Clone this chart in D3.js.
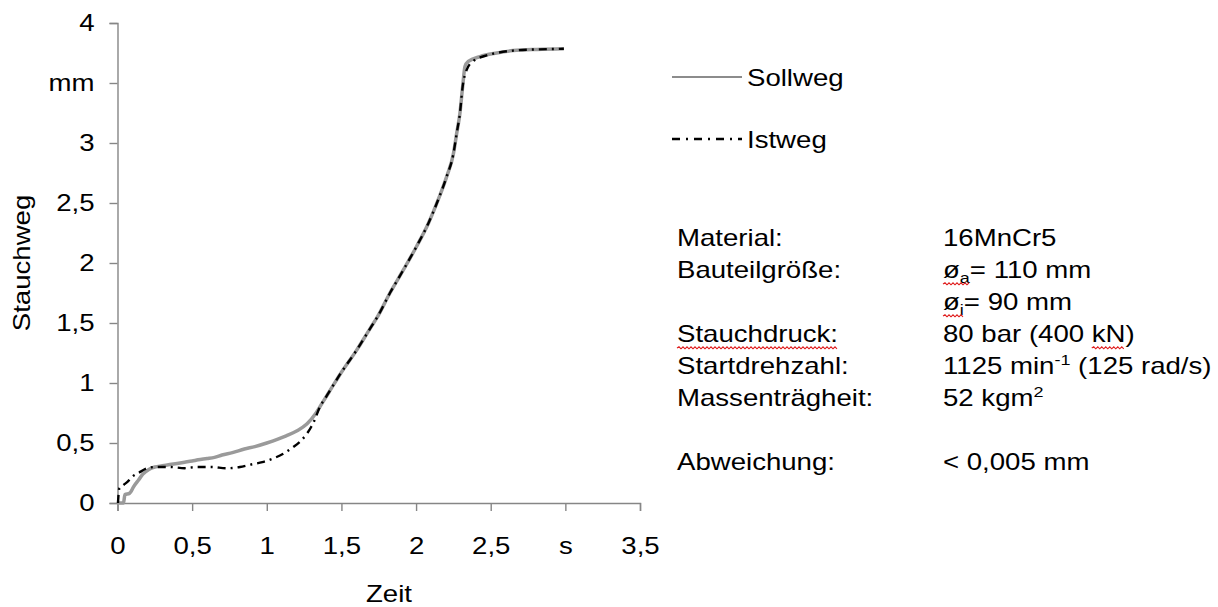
<!DOCTYPE html>
<html>
<head>
<meta charset="utf-8">
<script src="https://cdn.jsdelivr.net/npm/d3@7"></script>
<style>
  html, body { margin: 0; padding: 0; background: #ffffff; }
  svg { display: block; font-family: "Liberation Sans", Arial, sans-serif; }
</style>
</head>
<body>
<svg id="chart" width="1218" height="607"></svg>
<script>
// ---- data: upsetting travel over time ----
const timeSoll = [0, 0.04, 0.05, 0.08, 0.11, 0.14, 0.17, 0.21, 0.25, 0.30, 0.35, 0.40, 0.45, 0.50, 0.54, 0.60, 0.65, 0.70, 0.77, 0.85, 0.92, 1.00, 1.07, 1.13, 1.20, 1.27, 1.33, 1.37, 1.42, 1.50, 1.60, 1.70, 1.736, 1.825, 1.914, 2.004, 2.082, 2.149, 2.205, 2.25, 2.272, 2.294, 2.312, 2.328, 2.35, 2.428, 2.54, 2.65, 2.81, 2.99];
const wegSoll  = [0, 0.00, 0.07, 0.08, 0.14, 0.19, 0.24, 0.28, 0.30, 0.31, 0.32, 0.33, 0.34, 0.35, 0.36, 0.37, 0.38, 0.40, 0.42, 0.45, 0.47, 0.50, 0.53, 0.56, 0.60, 0.66, 0.75, 0.83, 0.93, 1.09, 1.27, 1.47, 1.54, 1.75, 1.94, 2.14, 2.33, 2.53, 2.72, 2.91, 3.08, 3.25, 3.47, 3.64, 3.68, 3.72, 3.75, 3.77, 3.78, 3.785];

const timeIst = [0.003, 0.012, 0.04, 0.07, 0.10, 0.14, 0.20, 0.25, 0.35, 0.45, 0.53, 0.63, 0.73, 0.82, 0.89, 0.97, 1.04, 1.11, 1.17, 1.23, 1.27, 1.30, 1.32, 1.355, 1.39, 1.42, 1.50, 1.60, 1.70, 1.736, 1.825, 1.914, 2.004, 2.082, 2.149, 2.205, 2.25, 2.272, 2.294, 2.312, 2.339, 2.381, 2.473, 2.54, 2.65, 2.81, 2.99];
const wegIst  = [0.00, 0.12, 0.15, 0.18, 0.22, 0.25, 0.29, 0.30, 0.30, 0.29, 0.30, 0.30, 0.29, 0.30, 0.32, 0.34, 0.37, 0.41, 0.46, 0.52, 0.58, 0.64, 0.69, 0.80, 0.87, 0.93, 1.09, 1.27, 1.47, 1.54, 1.75, 1.94, 2.14, 2.33, 2.53, 2.72, 2.91, 3.08, 3.25, 3.47, 3.61, 3.68, 3.73, 3.75, 3.77, 3.78, 3.785];

const seriesNames = ["Sollweg", "Istweg"];

const xTicks = [0, 0.5, 1, 1.5, 2, 2.5, 3, 3.5];
const xTickLabels = ["0", "0,5", "1", "1,5", "2", "2,5", "s", "3,5"];
const yTicks = [0, 0.5, 1, 1.5, 2, 2.5, 3, 3.5, 4];
const yTickLabels = ["0", "0,5", "1", "1,5", "2", "2,5", "3", "mm", "4"];

const xTitle = "Zeit";
const yTitle = "Stauchweg";

// parameter block: label column, value column (value parts: [text, kind, wavy])
const infoRows = [0, 1, 2, 3, 4, 5, 7];
const infoLabels = ["Material:", "Bauteilgröße:", "", "Stauchdruck:", "Startdrehzahl:", "Massenträgheit:", "Abweichung:"];
const infoValues = [
  [["16MnCr5", "", false]],
  [["ø", "", true], ["a", "sub", true], ["= 110 mm", "", false]],
  [["ø", "", true], ["i", "sub", true], ["= 90 mm", "", false]],
  [["80 bar (400 ", "", false], ["kN", "", true], [")", "", false]],
  [["1125 min", "", false], ["-1", "sup", false], [" (125 rad/s)", "", false]],
  [["52 kgm", "", false], ["2", "sup", false]],
  [["< 0,005 mm", "", false]]
];
const infoLabelWavy = [false, false, false, true, false, false, false];

// ---- layout ----
const SX = 1.2;            // horizontal glyph stretch of all lettering
const FS = 23;             // font size
const svg = d3.select("#chart");
svg.append("rect").attr("width", 1218).attr("height", 607).attr("fill", "#ffffff");

const x = d3.scaleLinear().domain([0, 3.5]).range([117.5, 640]);
const y = d3.scaleLinear().domain([0, 4]).range([503, 23]);

const axisColor = "#868686";
const textColor = "#000000";

// x axis
const xAxis = svg.append("g")
  .attr("transform", `translate(0,${y(0)})`)
  .call(d3.axisBottom(x).tickValues(xTicks).tickSize(8)
    .tickFormat((d, i) => xTickLabels[i]));
// y axis
const yAxis = svg.append("g")
  .attr("transform", `translate(${x(0)},0)`)
  .call(d3.axisLeft(y).tickValues(yTicks).tickSize(8)
    .tickFormat((d, i) => yTickLabels[i]));

[xAxis, yAxis].forEach(g => {
  g.select(".domain").attr("stroke", axisColor).attr("stroke-width", 1.4);
  g.selectAll(".tick line").attr("stroke", axisColor).attr("stroke-width", 1.4);
  g.selectAll(".tick text")
    .attr("fill", textColor)
    .attr("font-size", FS)
    .attr("font-family", "Liberation Sans, Arial, sans-serif");
});
xAxis.selectAll(".tick text")
  .attr("y", 51).attr("dy", 0)
  .attr("transform", `scale(${SX},1)`);
yAxis.selectAll(".tick text")
  .attr("x", -23 / SX).attr("dy", "0.32em")
  .attr("transform", `scale(${SX},1)`);

// axis titles
svg.append("text")
  .attr("transform", `translate(389,602) scale(${SX},1)`)
  .attr("text-anchor", "middle")
  .attr("font-size", FS).attr("fill", textColor)
  .text(xTitle);
svg.append("text")
  .attr("transform", `translate(30,263) rotate(-90) scale(${SX},1)`)
  .attr("text-anchor", "middle")
  .attr("font-size", FS).attr("fill", textColor)
  .text(yTitle);

// ---- curves ----
const line = d3.line()
  .x(d => x(d[0]))
  .y(d => y(d[1]))
  .curve(d3.curveMonotoneX);

const sollData = timeSoll.map((t, i) => [t, wegSoll[i]]);
const istData = timeIst.map((t, i) => [t, wegIst[i]]);

svg.append("path")
  .datum(sollData)
  .attr("d", line)
  .attr("fill", "none")
  .attr("stroke", "#9a9a9a")
  .attr("stroke-width", 3.5)
  .attr("stroke-linejoin", "round");

svg.append("path")
  .datum(istData)
  .attr("d", line)
  .attr("fill", "none")
  .attr("stroke", "#000000")
  .attr("stroke-width", 2.4)
  .attr("stroke-dasharray", "8,5,2,5");

// ---- legend ----
const legend = svg.append("g");
const legendStyles = [
  { stroke: "#8c8c8c", width: 2.2, dash: null, y: 77 },
  { stroke: "#000000", width: 2.6, dash: "8,6,2,6", y: 139 }
];
seriesNames.forEach((name, i) => {
  const st = legendStyles[i];
  const ln = legend.append("line")
    .attr("x1", 672).attr("x2", 742)
    .attr("y1", st.y).attr("y2", st.y)
    .attr("stroke", st.stroke).attr("stroke-width", st.width);
  if (st.dash) ln.attr("stroke-dasharray", st.dash);
  legend.append("text")
    .attr("transform", `translate(747,${st.y + 9}) scale(${SX},1)`)
    .attr("font-size", FS).attr("fill", textColor)
    .text(name);
});

// ---- parameter block ----
const info = svg.append("g");
const wavyTargets = [];
const baseY = 246, rowH = 32;
infoRows.forEach((row, i) => {
  const by = baseY + rowH * row;
  if (infoLabels[i]) {
    const t = info.append("text")
      .attr("transform", `translate(677,${by}) scale(${SX},1)`)
      .attr("font-size", FS).attr("fill", textColor)
      .text(infoLabels[i]);
    if (infoLabelWavy[i]) wavyTargets.push({ node: t.node(), base: by });
  }
  const vt = info.append("text")
    .attr("transform", `translate(943,${by}) scale(${SX},1)`)
    .attr("font-size", FS).attr("fill", textColor);
  infoValues[i].forEach(([txt, kind, wavy]) => {
    const ts = vt.append("tspan").text(txt);
    if (kind === "sub") {
      ts.attr("font-size", 15).attr("dy", 5).attr("data-kind", kind);
    } else if (kind === "sup") {
      ts.attr("font-size", 15).attr("dy", -9).attr("data-kind", kind);
    }
    if (wavy) wavyTargets.push({ node: ts.node(), base: by });
  });
  // return to the main baseline after sub/superscripts
  let shift = 0;
  vt.selectAll("tspan").each(function () {
    const k = this.getAttribute("data-kind");
    if (!k && shift !== 0) {
      d3.select(this).attr("dy", -shift);
      shift = 0;
    }
    if (k === "sub") shift += 5;
    if (k === "sup") shift += -9;
  });
});

// red wavy proofing underlines
function wavyPath(x0, x1, yy) {
  let d = `M${x0},${yy}`;
  let up = true;
  for (let xx = x0 + 2; xx <= x1; xx += 2) {
    d += `L${xx},${yy + (up ? -1.2 : 0.8)}`;
    up = !up;
  }
  return d;
}
const wavyMerge = [];
wavyTargets.forEach(w => {
  const r = w.node.getBoundingClientRect();
  const last = wavyMerge[wavyMerge.length - 1];
  if (last && last.base === w.base && Math.abs(last.x1 - r.left) < 3) {
    last.x1 = r.right;
  } else {
    wavyMerge.push({ x0: r.left, x1: r.right, base: w.base });
  }
});
wavyMerge.forEach(m => {
  info.append("path")
    .attr("d", wavyPath(m.x0, m.x1, m.base + 6))
    .attr("fill", "none")
    .attr("stroke", "#e02020")
    .attr("stroke-width", 1.1);
});
</script>
</body>
</html>
